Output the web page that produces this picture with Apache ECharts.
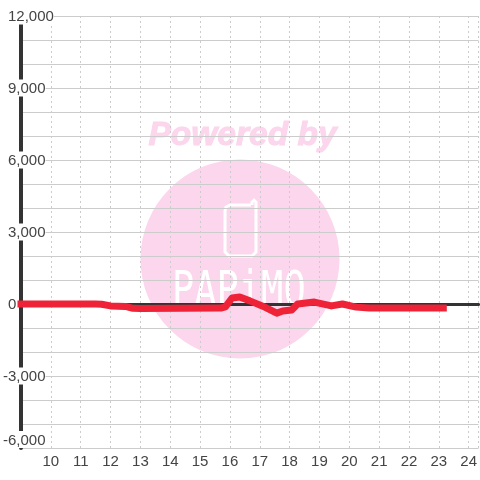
<!DOCTYPE html>
<html><head><meta charset="utf-8">
<style>html,body{margin:0;padding:0;background:#fff}#c{width:480px;height:480px}</style>
<script src="https://cdn.jsdelivr.net/npm/echarts@6/dist/echarts.min.js"></script></head>
<body><div id="c"></div>
<script>
var hours=[9,11.5,11.7,12,12.5,12.75,13,15.7,15.85,16.07,16.33,16.67,17.1,17.57,17.77,18.07,18.27,18.83,19.4,19.77,20.23,20.67,23.15];
var values=[0,0,-10,-80,-100,-180,-190,-170,-120,250,290,130,-90,-380,-290,-250,0,80,-80,0,-130,-170,-170];
var labeled=[12000,9000,6000,3000,0,-3000,-6000];
var chart=echarts.init(document.getElementById('c'),null,{renderer:'canvas'});
var pink='#fbd6ec';
chart.setOption({
 animation:false,
 graphic:[
  {type:'circle',z:-10,shape:{cx:240,cy:259,r:99.5},style:{fill:pink}},
  {type:'text',z:-10,left:148,top:118,style:{text:'Powered by',fill:pink,stroke:pink,lineWidth:1,font:'italic bold 33.5px "Liberation Sans"'}},
  {type:'polyline',z:-9,shape:{points:[[251,205],[230,205],[226,207],[225,211],[225,252],[229,256],[252,256],[256,252],[256,202],[254,200],[252,202],[252,205]]},style:{stroke:'#fff',fill:null,lineWidth:3}},
  {type:'text',z:-9,x:172,y:268,scaleY:1.35,style:{text:'PAPiMO',fill:'#fff',font:'300 37px "DejaVu Sans Mono"'}}
 ],
 grid:{left:20,right:0,top:16,bottom:32,containLabel:false},
 xAxis:[{type:'value',min:9,max:24.33,interval:1,position:'bottom',
   axisLine:{onZero:false,show:false},axisTick:{show:false},
   axisLabel:{color:'#444',fontFamily:'Liberation Sans',fontSize:15,margin:6,showMaxLabel:false,showMinLabel:false,
     formatter:function(v){return (v===Math.round(v))?String(v):'';}},
   splitLine:{show:true,lineStyle:{color:'#ccc',type:[2,3],width:1}}},
  {type:'value',min:9,max:24.33,interval:1,position:'bottom',
   axisLine:{show:true,onZero:true,lineStyle:{color:'#333',width:3}},axisTick:{show:false},axisLabel:{show:false},splitLine:{show:false}}],
 yAxis:{type:'value',min:-6000,max:12000,interval:1000,
   axisLine:{show:true,onZero:false,lineStyle:{color:'#333',width:4}},axisTick:{show:false},
   axisLabel:{show:true,align:'left',margin:18,color:'#444',fontFamily:'Liberation Sans',fontSize:15,
     showMinLabel:true,showMaxLabel:true,verticalAlignMinLabel:'bottom',backgroundColor:'#fff',
     formatter:function(v){
       if(labeled.indexOf(v)<0)return '';
       var s=(v<0?'-':'')+Math.abs(v).toLocaleString('en-US');
       return v<0?'{n|'+s+'}':'{p|'+s+'}';},
     rich:{p:{padding:[2,0,0,5],color:'#444',fontSize:15,fontFamily:'Liberation Sans'},n:{padding:[2,0,0,0],color:'#444',fontSize:15,fontFamily:'Liberation Sans'}}},
   splitLine:{show:true,lineStyle:{color:'#ccc',width:1}}},
 series:[{type:'line',xAxisIndex:0,data:hours.map(function(h,i){return [h,values[i]];}),showSymbol:false,smooth:false,clip:false,z:5,
   lineStyle:{color:'#ee2338',width:7,cap:'square',join:'round'}}]
});
</script></body></html>
